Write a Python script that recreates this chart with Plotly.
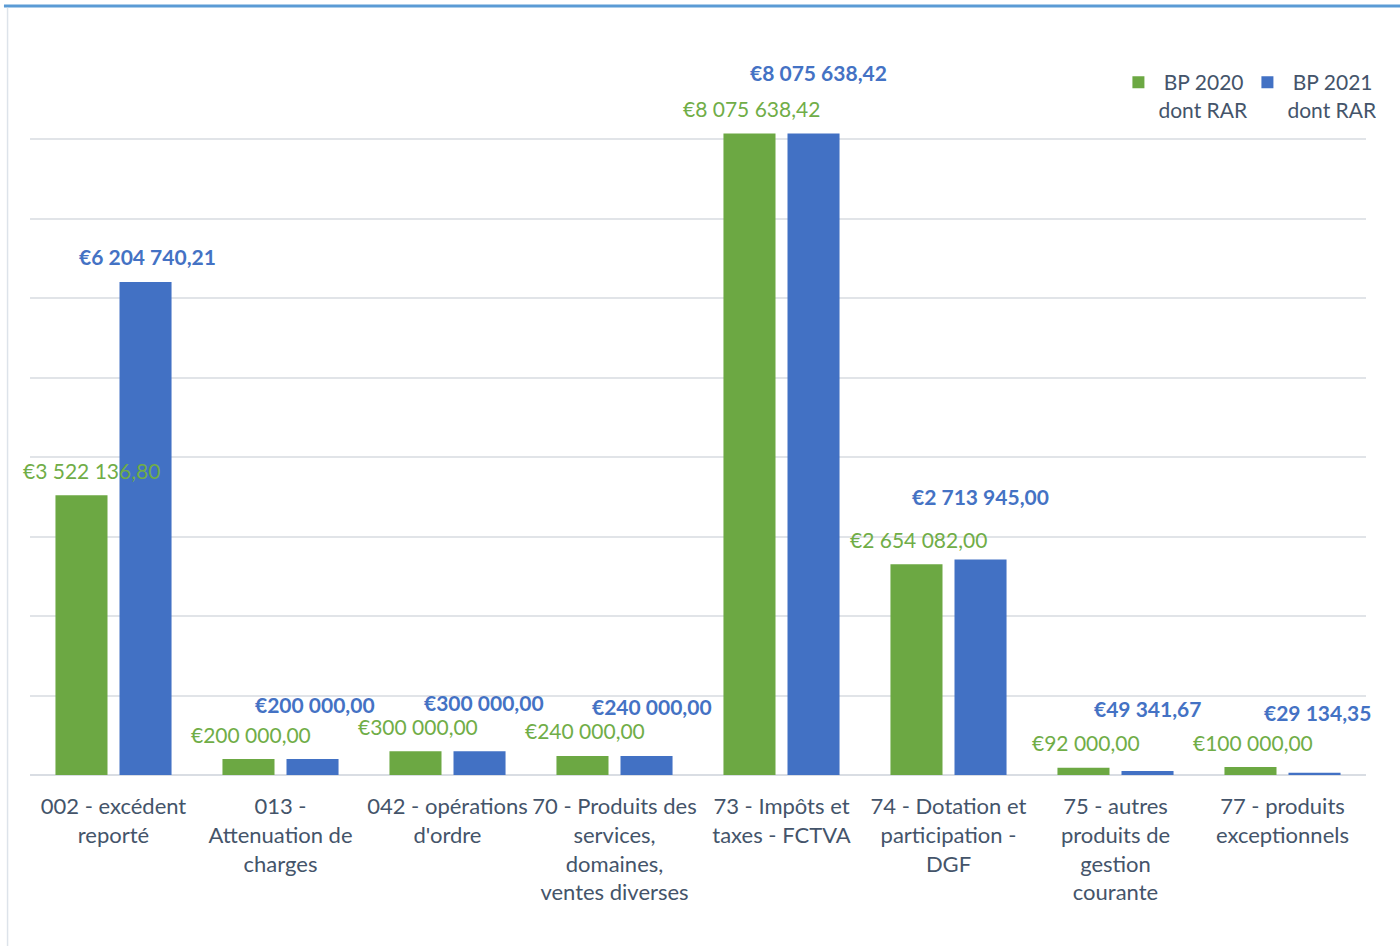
import plotly.graph_objects as go

categories = [
    "002 - excédent<br>reporté",
    "013 -<br>Attenuation de<br>charges",
    "042 - opérations<br>d'ordre",
    "70 - Produits des<br>services,<br>domaines,<br>ventes diverses",
    "73 - Impôts et<br>taxes - FCTVA",
    "74 - Dotation et<br>participation -<br>DGF",
    "75 - autres<br>produits de<br>gestion<br>courante",
    "77 - produits<br>exceptionnels",
]
bp2020 = [3522136.80, 200000.00, 300000.00, 240000.00, 8075638.42, 2654082.00, 92000.00, 100000.00]
bp2021 = [6204740.21, 200000.00, 300000.00, 240000.00, 8075638.42, 2713945.00, 49341.67, 29134.35]
series_names = ["\u00a0BP 2020<br>dont RAR", "\u00a0BP 2021<br>dont RAR"]
gridvals = [0, 1e6, 2e6, 3e6, 4e6, 5e6, 6e6, 7e6, 8e6]

# style: label pixel offsets (above bar top)
green_shift_y = [25, 25, 25, 25, 25, 25, 25, 25]
blue_shift_y = [26, 55, 49, 49, 61, 63, 63, 60]
green_shift_x = [-22, -30, -30, -30, -30, -30, -30, -30]
blue_shift_x = [34, 34, 36, 37, 37, 32, 32, 35]

GREEN = "#6ca843"
BLUE = "#4271c4"
GREEN_TXT = "#70ad47"
BLUE_TXT = "#4472c4"
AXIS_TXT = "#44546a"
FONT = "Lato"


def euro(v):
    s = f"{v:,.2f}"
    s = s.replace(",", " ").replace(".", ",")
    return "€" + s


fig = go.Figure()
fig.add_trace(go.Bar(x=categories, y=bp2020, name=series_names[0], marker=dict(color=GREEN, line=dict(width=0))))
fig.add_trace(go.Bar(x=categories, y=bp2021, name=series_names[1], marker=dict(color=BLUE, line=dict(width=0))))

for i, c in enumerate(categories):
    fig.add_annotation(x=c, y=bp2020[i], text=euro(bp2020[i]), showarrow=False,
                       xshift=green_shift_x[i], yshift=green_shift_y[i], yanchor="middle",
                       font=dict(family=FONT, size=21, color=GREEN_TXT))
    fig.add_annotation(x=c, y=bp2021[i], text="<b>" + euro(bp2021[i]) + "</b>", showarrow=False,
                       xshift=blue_shift_x[i], yshift=blue_shift_y[i], yanchor="middle",
                       font=dict(family=FONT, size=21, color=BLUE_TXT))

# frame decorations
fig.add_shape(type="line", xref="paper", yref="paper", x0=-0.0195, x1=1.03, y0=1.0755, y1=1.0755,
              line=dict(color="#5b9bd5", width=3))
fig.add_shape(type="line", xref="paper", yref="paper", x0=-0.0168, x1=-0.0168, y0=-0.25, y1=1.073,
              line=dict(color="#dde3ea", width=1.5))

fig.update_layout(
    width=1400, height=946,
    margin=dict(l=30, r=34, t=60, b=171),
    paper_bgcolor="white", plot_bgcolor="white",
    barmode="group", bargap=0.233, bargroupgap=0.1875,
    font=dict(family=FONT, size=21, color=AXIS_TXT),
    showlegend=True,
    legend=dict(orientation="h", x=1.0078, xanchor="right", y=0.997, yanchor="top",
                valign="top", font=dict(family=FONT, size=21, color=AXIS_TXT),
                bgcolor="rgba(0,0,0,0)", itemclick=False, entrywidth=84),
)
fig.update_xaxes(range=[-0.5, 7.5], showgrid=False, showline=False, zeroline=False, ticks="outside",
                 ticklen=12, tickcolor="rgba(0,0,0,0)", tickfont=dict(family=FONT, size=22, color=AXIS_TXT),
                 tickangle=0, automargin=False)
fig.update_yaxes(range=[0, 9e6], tickvals=gridvals, showticklabels=False, showgrid=True,
                 gridcolor="#e1e4e8", gridwidth=1.5, zeroline=True, zerolinecolor="#d9dde3",
                 zerolinewidth=2, showline=False)

fig.write_html("out.html")
